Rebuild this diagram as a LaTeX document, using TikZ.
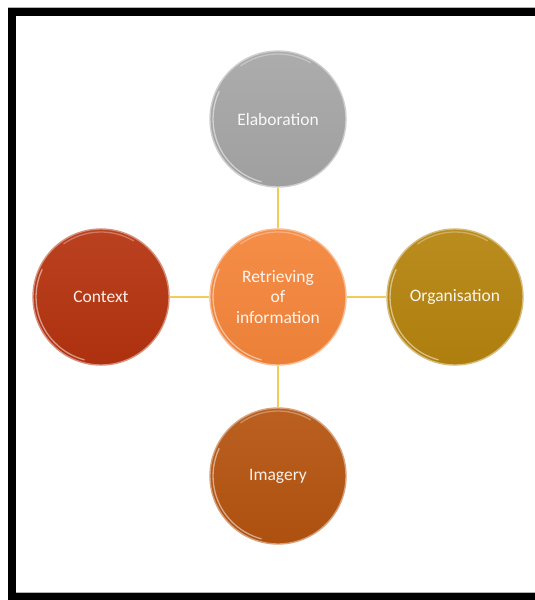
\documentclass[tikz,border=0pt]{standalone}
\usepackage{fontspec}
\setmainfont{Carlito}
\begin{document}
\begin{tikzpicture}[x=1pt,y=-1pt,
  ball/.style args={#1}{circle, minimum size=136pt, inner sep=0pt,
    top color=#1!93!white, bottom color=#1!96!black, draw=#1!55!white, line width=1.4pt,
    text=white!92!#1, font=\fontsize{17.5}{20.5}\selectfont, align=center},
  rim/.style={draw=white, line width=1.3pt, opacity=0.5, line cap=round},
  conn/.style={draw=connY, line width=1.6pt}]
\definecolor{gE}{HTML}{A6A6A6}
\definecolor{oC}{HTML}{F5853A}
\definecolor{rC}{HTML}{B5330F}
\definecolor{yO}{HTML}{B5840E}
\definecolor{bI}{HTML}{B55410}
\definecolor{connY}{HTML}{F2CC55}
\useasboundingbox (0,0) rectangle (535,600);
\clip (0,0) rectangle (535,600);
% frame
\fill[white] (0,0) rectangle (535,600);
\fill[black] (8,8) rectangle (545,605);
\fill[white] (16,16) rectangle (545,593);
\draw[gray!60, line width=0.8pt] (8,7.5) -- (545,7.5);
\draw[gray!60, line width=0.8pt] (16,592.5) -- (545,592.5);
% nodes
\node[ball=oC] (c) at (278,297) {Retrieving\\of\\information};
\node[ball=gE] (e) at (278,119) {Elaboration};
\node[ball=rC] (x) at (101,297) {Context};
\node[ball=yO] (o) at (455,297) {Organisation};
\node[ball=bI] (i) at (278,476) {Imagery};
% glossy rims (y axis points down: angles 90..180 = lower left)
\foreach \n in {c,e,x,o,i}{
  \draw[rim] (\n.center) ++(105:65) arc[start angle=105, end angle=205, radius=65];
  \draw[rim, opacity=0.3] (\n.center) ++(235:65) arc[start angle=235, end angle=300, radius=65];
}
% connectors
\draw[conn] (c) -- (e);
\draw[conn] (c) -- (x);
\draw[conn] (c) -- (o);
\draw[conn] (c) -- (i);
\end{tikzpicture}
\end{document}
